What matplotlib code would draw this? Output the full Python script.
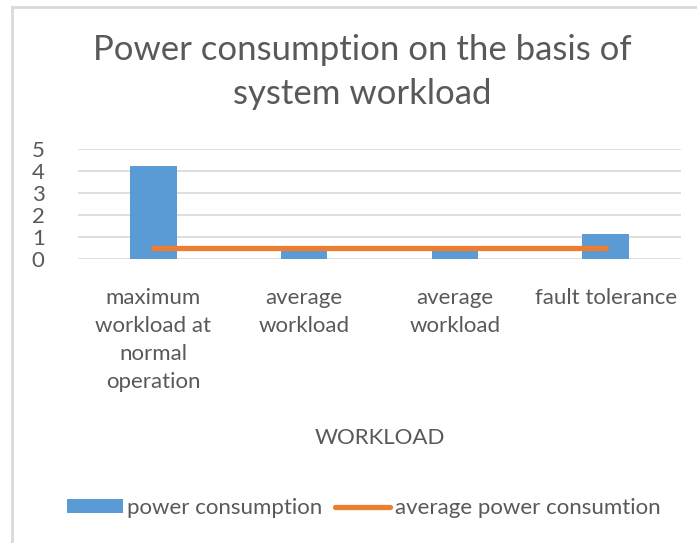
import matplotlib
matplotlib.use("Agg")
import matplotlib.pyplot as plt
from matplotlib.patches import Rectangle, Patch
from matplotlib.lines import Line2D

categories = ["maximum\nworkload at\nnormal\noperation", "average\nworkload", "average\nworkload", "fault tolerance"]
power_consumption = [4.25, 0.35, 0.35, 1.15]
average_power = [0.5, 0.5, 0.5, 0.5]
yticks = [0, 1, 2, 3, 4, 5]

TXT = "#595959"
FONT = ["Lato", "DejaVu Sans"]
plt.rcParams["font.family"] = FONT

fig = plt.figure(figsize=(6.97, 5.43), dpi=100)
fig.patches.append(Rectangle((12/697, -0.1), 1.2, 1 - 7/543 + 0.1, transform=fig.transFigure,
                             fill=False, edgecolor="#d9d9d9", linewidth=2))
ax = fig.add_axes([78/697, 1 - 259/543, (681 - 78)/697, 110/543])

x = list(range(len(categories)))
ax.bar(x, power_consumption, width=0.31, color="#5B9BD5", zorder=2)
ax.plot(x, average_power, color="#ED7D31", linewidth=3.8, solid_capstyle="round", zorder=3)

ax.set_xlim(-0.5, 3.5)
ax.set_ylim(0, 5)
ax.set_yticks(yticks)
ax.set_yticklabels([str(v) for v in yticks], fontsize=16, color=TXT)
ax.set_xticks(x)
ax.set_xticklabels(categories, fontsize=16, color=TXT, linespacing=1.5, va="top")
ax.tick_params(axis="both", length=0)
ax.tick_params(axis="y", pad=24)
ax.tick_params(axis="x", pad=21)
for s in ax.spines.values():
    s.set_visible(False)
ax.grid(axis="y", color="#d9d9d9", linewidth=1.2, zorder=0)
ax.set_axisbelow(True)

fig.text(362/697, 1 - 72/543, "Power consumption on the basis of\nsystem workload", ha="center", va="center",
         fontsize=25, color=TXT, linespacing=1.5)
fig.text(380/697, 1 - 438/543, "WORKLOAD", ha="center", va="center", fontsize=16, color=TXT)

handles = [Patch(facecolor="#5B9BD5", edgecolor="none"),
           Line2D([0], [0], color="#ED7D31", linewidth=3.8, solid_capstyle="round")]
leg = fig.legend(handles, ["power consumption", "average power consumtion"], loc="center",
                 bbox_to_anchor=(364/697, 1 - 508/543), ncol=2, frameon=False, fontsize=16,
                 handlelength=2.5, handleheight=0.6, handletextpad=0.22, columnspacing=0.55)
for t in leg.get_texts():
    t.set_color(TXT)

fig.savefig("out.png", dpi=100, facecolor="white")
